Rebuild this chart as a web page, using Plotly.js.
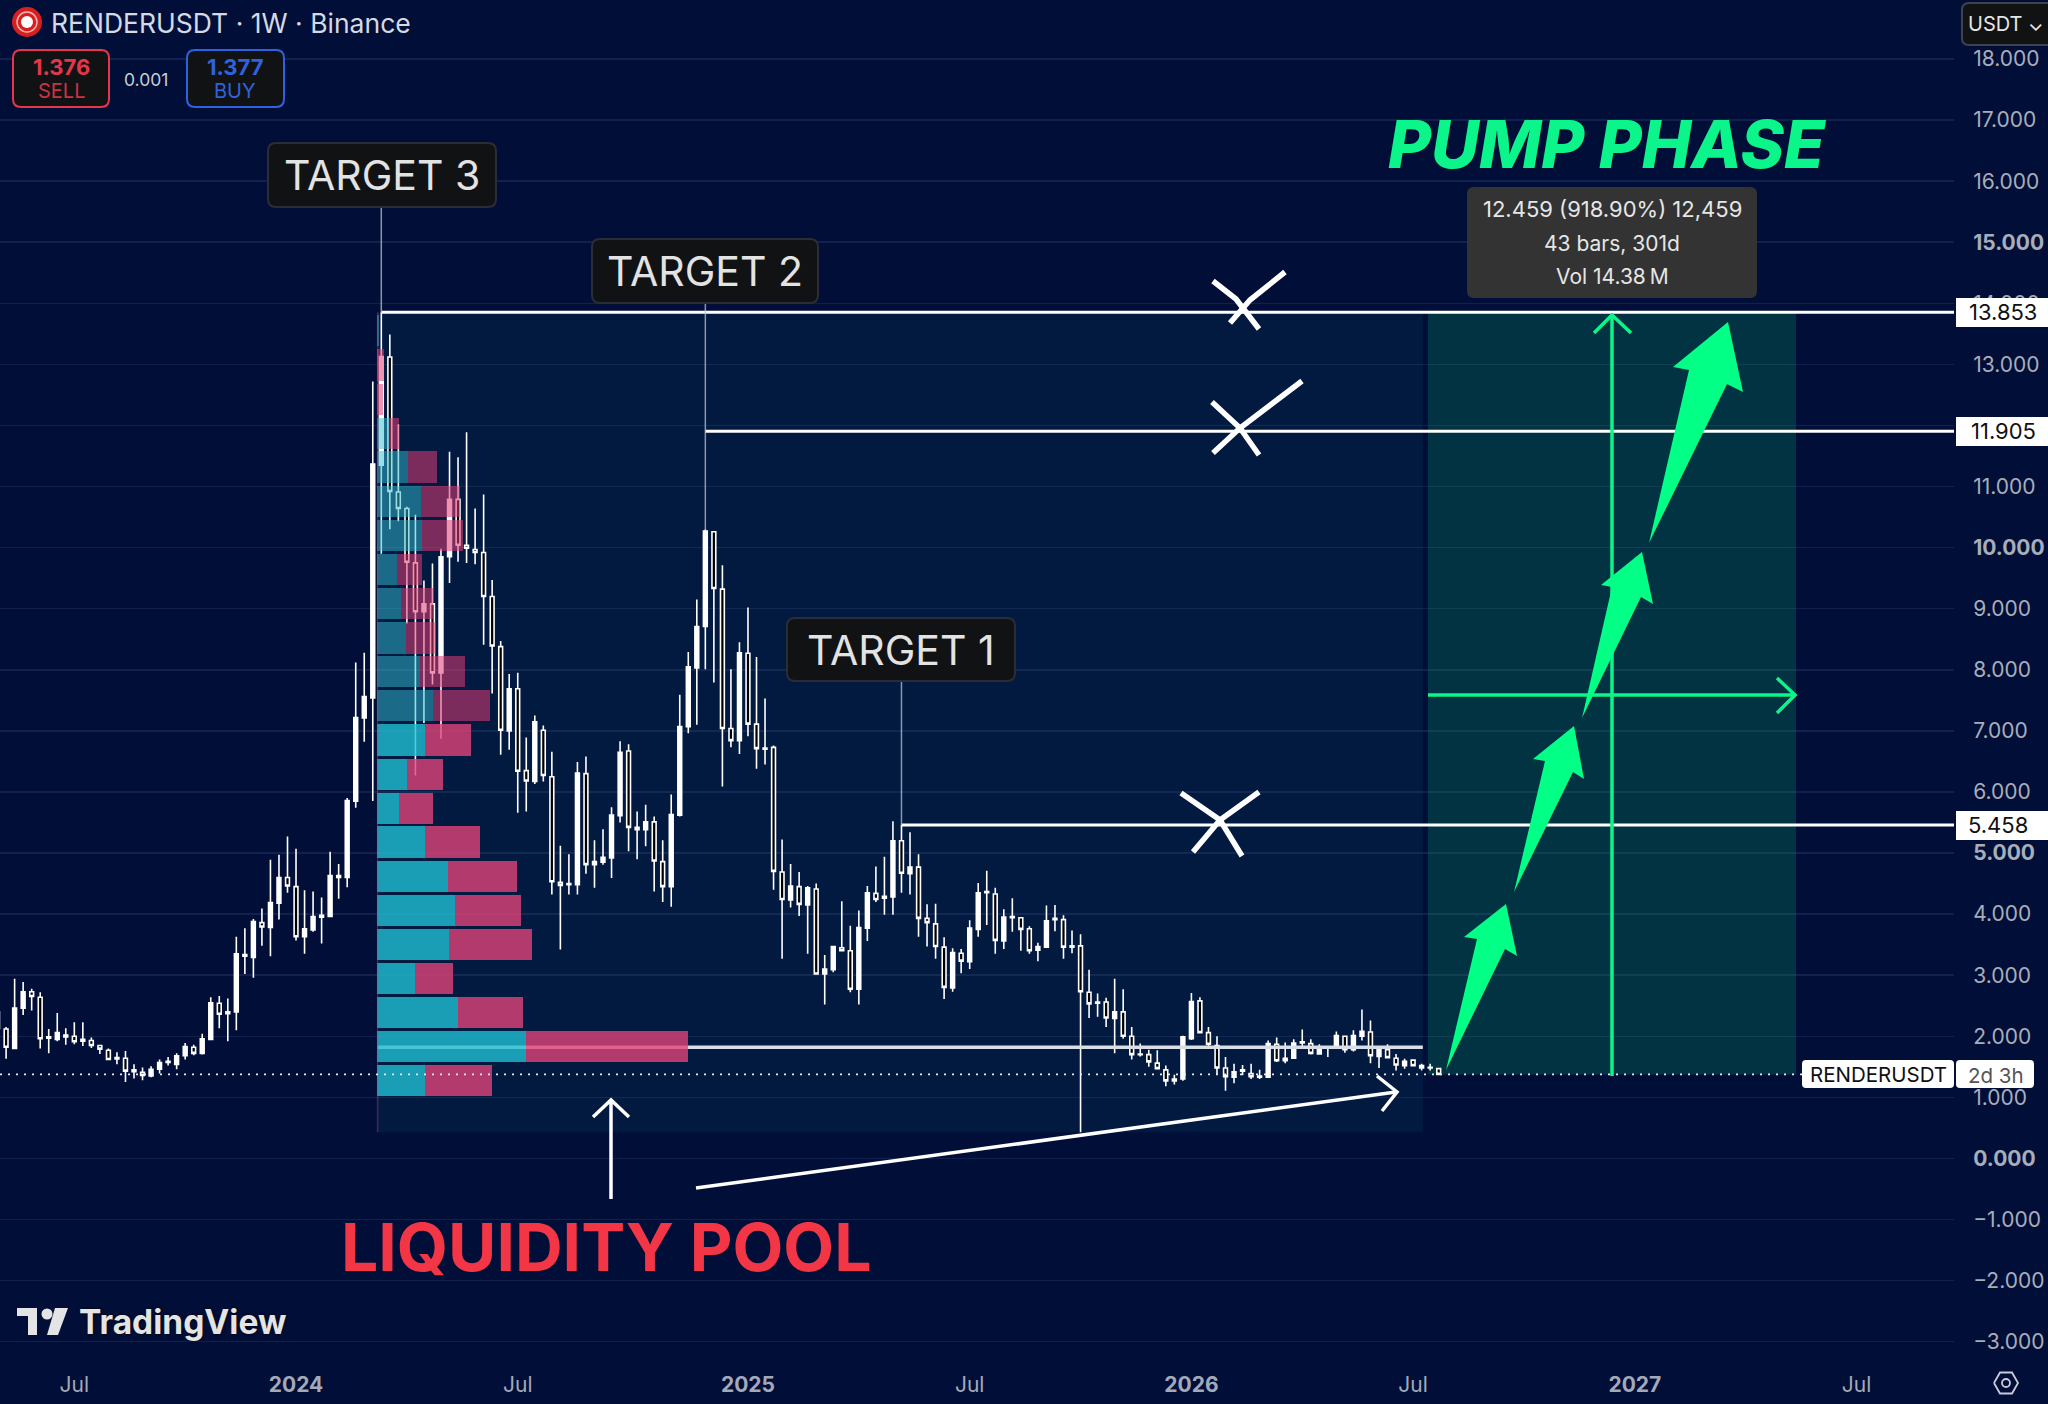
<!DOCTYPE html>
<html><head><meta charset="utf-8">
<script src="https://cdn.plot.ly/plotly-3.0.1.min.js"></script>
<style>html,body{margin:0;padding:0;background:#010f38}#c{width:2048px;height:1404px}</style>
</head><body><div id="c"></div>
<script>
// ---- weekly candles, first candle in week of 2023-05-01 ----
const firstWeek = '2023-05-01';
const opens = [
2.13,2.12,1.80,2.46,2.73,2.64,1.97,1.95,1.99,2.00,
1.92,1.93,1.85,1.77,1.65,1.64,1.42,1.41,1.35,1.46,
1.57,1.54,1.68,1.82,1.72,1.95,2.54,2.37,2.40,3.31,
3.29,3.86,3.78,4.18,4.60,4.45,3.63,3.74,3.95,3.96,
4.60,4.60,5.85,7.21,7.54,11.35,13.12,10.91,10.64,9.75,
8.95,9.08,7.95,9.85,10.79,10.04,9.97,9.92,9.20,8.38,
7.00,7.69,6.35,6.17,7.01,6.25,4.52,4.48,4.48,6.30,
4.81,4.85,4.92,5.61,6.67,5.38,5.38,5.51,4.86,4.45,
5.62,7.07,8.03,8.71,10.26,9.32,7.04,6.84,8.27,7.11,
6.72,6.73,4.69,4.23,4.45,4.15,4.41,3.02,3.09,3.45,
3.40,2.77,3.77,4.34,4.26,4.28,5.20,4.66,4.77,3.93,
3.84,3.46,2.79,3.36,3.22,3.75,4.35,4.33,3.56,3.94,
3.94,3.76,3.41,3.46,3.91,3.91,3.48,3.48,2.72,2.56,
2.56,2.29,2.40,2.00,1.71,1.70,1.56,1.45,1.27,1.30,
1.96,2.58,2.06,1.85,1.48,1.33,1.43,1.39,1.35,1.33,
1.87,1.60,1.64,1.89,1.88,1.71,1.81,1.82,2.00,1.78,
2.00,2.07,1.67,1.78,1.64,1.52,1.61,1.48,1.48,1.47
];
const closes = [
2.40,1.82,2.46,2.73,2.65,1.96,1.99,2.06,2.02,1.91,
1.95,1.85,1.79,1.62,1.63,1.43,1.45,1.36,1.46,1.57,
1.59,1.68,1.83,1.72,1.96,2.55,2.36,2.40,3.35,3.34,
3.88,3.79,4.19,4.60,4.46,3.63,3.76,3.96,3.98,4.63,
4.63,5.86,7.22,7.56,11.37,13.13,10.92,10.64,9.76,8.95,
9.08,7.95,9.85,10.79,10.04,9.99,9.92,9.20,8.39,7.01,
7.69,6.34,6.18,7.15,6.27,4.53,4.47,4.50,6.31,4.81,
4.86,4.93,5.62,6.65,5.42,5.42,5.51,4.87,4.45,5.63,
7.07,8.05,8.71,10.27,9.33,7.04,6.84,8.28,7.11,6.71,
6.70,4.70,4.24,4.46,4.16,4.43,3.02,3.10,3.47,3.40,
2.77,3.78,4.35,4.24,4.29,5.20,4.67,4.77,3.93,3.86,
3.47,2.80,3.37,3.23,3.77,4.35,4.37,3.57,3.95,3.96,
3.75,3.40,3.47,3.89,3.93,3.46,3.46,2.73,2.53,2.54,
2.30,2.40,2.00,1.70,1.70,1.58,1.47,1.27,1.30,1.99,
2.57,2.06,1.87,1.48,1.34,1.42,1.45,1.34,1.33,1.88,
1.60,1.64,1.89,1.91,1.72,1.82,1.82,2.01,1.78,2.01,
2.08,1.68,1.79,1.65,1.53,1.59,1.52,1.52,1.49,1.376
];
const highs = [
2.49,2.15,2.94,2.89,2.78,2.72,2.12,2.38,2.13,2.23,
2.23,1.98,1.86,1.80,1.74,1.76,1.54,1.49,1.51,1.62,
1.66,1.72,1.89,1.86,2.04,2.64,2.66,2.62,3.63,3.77,
3.92,4.09,4.89,4.97,5.27,5.07,4.39,4.37,4.27,5.02,
4.82,5.90,8.12,8.28,12.72,13.853,13.49,12.02,10.67,10.54,
9.46,9.74,9.98,11.57,11.48,11.89,10.64,10.87,9.47,8.47,
7.93,7.95,6.89,7.25,7.09,6.66,5.12,4.98,6.49,6.58,
5.21,5.39,5.75,6.83,6.78,5.68,5.79,5.60,5.21,5.96,
7.59,8.29,9.15,10.30,10.27,9.71,8.01,8.45,9.02,8.21,
7.53,6.76,5.22,4.82,4.69,4.46,4.50,3.33,3.47,4.21,
3.81,4.06,4.46,4.78,4.94,5.52,5.458,5.34,4.98,4.16,
4.17,3.62,3.44,3.43,3.90,4.51,4.71,4.43,4.08,4.26,
3.95,3.80,3.53,4.14,4.15,3.98,3.73,3.67,3.09,2.70,
2.63,2.94,2.77,2.15,1.88,1.78,1.77,1.52,1.37,2.01,
2.71,2.64,2.15,2.00,1.66,1.55,1.53,1.55,1.45,1.93,
1.98,1.90,1.95,2.11,1.95,1.87,1.84,2.08,2.01,2.10,
2.44,2.26,1.82,1.87,1.71,1.63,1.61,1.55,1.55,1.47
];
const lows = [
2.06,1.63,1.79,2.35,2.42,1.80,1.72,1.92,1.86,1.87,
1.84,1.81,1.71,1.61,1.54,1.25,1.31,1.28,1.33,1.39,
1.52,1.46,1.62,1.69,1.70,1.95,2.13,1.92,2.10,3.02,
2.96,3.48,3.31,3.91,4.35,3.57,3.35,3.71,3.52,3.95,
4.25,4.44,5.74,6.82,5.85,9.90,10.30,10.43,8.76,6.27,
7.13,7.76,6.87,9.42,9.77,9.75,9.73,8.41,7.61,6.61,
6.69,5.66,5.68,6.13,6.17,4.32,3.42,4.32,4.32,4.66,
4.43,4.81,4.59,5.50,5.03,4.90,5.11,4.37,4.20,4.12,
5.60,6.96,7.10,8.01,7.79,6.09,6.73,6.62,6.91,6.38,
6.45,4.40,3.27,4.11,3.97,3.35,3.01,2.52,3.05,3.40,
2.72,2.52,3.56,4.20,3.99,3.99,4.35,4.32,3.63,3.47,
3.27,2.61,2.73,3.03,3.10,3.63,3.82,3.35,3.43,3.71,
3.40,3.35,3.23,3.46,3.72,3.27,3.36,0.43,2.30,2.32,
2.15,1.72,1.96,1.62,1.67,1.50,1.46,1.18,1.21,1.27,
1.94,2.05,1.83,1.38,1.11,1.23,1.36,1.30,1.30,1.33,
1.58,1.56,1.64,1.84,1.70,1.70,1.66,1.82,1.73,1.75,
1.93,1.56,1.48,1.64,1.44,1.47,1.52,1.44,1.44,1.37
];

// ---- fixed-range volume profile ----
const profilePrices = [1.27,1.83,2.39,2.94,3.50,4.06,4.62,5.18,5.73,6.29,6.85,7.41,7.97,8.52,9.08,9.64,10.20,10.76,11.32,11.87,12.43,12.99,13.55];
const buyVolume  = [48,149,81,38,72,78,71,48,22,30,48,56,43,29,24,20,45,44,31,12,1,1,2];
const sellVolume = [67,162,65,38,83,66,69,55,34,36,46,57,45,30,32,25,41,39,29,10,5,6,0];
const pocPrice = 1.82;
const profileRange = ['2024-03-08','2026-07-14'];

// ---- levels and targets ----
const levelPrices = [13.853,11.905,5.458];
const levelStarts = ['2024-03-11','2024-12-02','2025-05-12'];
const targetTops = [15.58,14.0,7.82];
const targetBottoms = [13.853,10.3,5.458];
const lastPrice = 1.376;

// ---- axis labels ----
const yTicks = [18,17,16,15,14,13,12,11,10,9,8,7,6,5,4,3,2,1,0,-1,-2,-3];
const yLabels = ['18.000','17.000','16.000','<b>15.000</b>','14.000','13.000','12.000','11.000','<b>10.000</b>','9.000','8.000','7.000','6.000','<b>5.000</b>','4.000','3.000','2.000','1.000','<b>0.000</b>','−1.000','−2.000','−3.000'];
const xTicks = ['2023-07-03','2024-01-01','2024-07-01','2025-01-06','2025-07-07','2026-01-05','2026-07-06','2027-01-04','2027-07-05'];
const xLabels = ['Jul','<b>2024</b>','Jul','<b>2025</b>','Jul','<b>2026</b>','Jul','<b>2027</b>','Jul'];

// ---- geometry helpers ----
const PW = 1954, PH = 1365, FONT = 'Inter, "Liberation Sans", sans-serif';
const fx = p => p / PW, fy = p => 1 - p / PH;
const weeks = opens.map((_, i) => new Date(Date.parse(firstWeek + 'T00:00:00Z') + i * 7 * 864e5).toISOString().slice(0, 10));

const poly = (pts, close) => 'M' + pts.map(p => fx(p[0]) + ',' + fy(p[1])).join(' L') + (close ? ' Z' : '');
const rrectPath = (x0, y0, x1, y1, r) =>
  `M${fx(x0 + r)},${fy(y0)} L${fx(x1 - r)},${fy(y0)} Q${fx(x1)},${fy(y0)} ${fx(x1)},${fy(y0 + r)} ` +
  `L${fx(x1)},${fy(y1 - r)} Q${fx(x1)},${fy(y1)} ${fx(x1 - r)},${fy(y1)} L${fx(x0 + r)},${fy(y1)} ` +
  `Q${fx(x0)},${fy(y1)} ${fx(x0)},${fy(y1 - r)} L${fx(x0)},${fy(y0 + r)} Q${fx(x0)},${fy(y0)} ${fx(x0 + r)},${fy(y0)} Z`;
const pshape = (path, o) => Object.assign({type:'path', xref:'paper', yref:'paper', path, layer:'above', line:{width:0}}, o);
const stroke = (pts, color, width) => pshape(poly(pts), {line:{color, width}});
const fill = (pts, color) => pshape(poly(pts, true), {fillcolor:color});
const rbox = (x0, y0, x1, y1, r, fc, lc, lw) => pshape(rrectPath(x0, y0, x1, y1, r), {fillcolor:fc, line:{color:lc || fc, width:lw || 0}});
const circ = (x, y, r, fc, lc, lw) => ({type:'circle', xref:'paper', yref:'paper', x0:fx(x-r), x1:fx(x+r), y0:fy(y+r), y1:fy(y-r), layer:'above', fillcolor:fc, line:{color:lc||fc, width:lw||0}});
const text = (t, x, y, size, color, o) => Object.assign({text:t, xref:'paper', yref:'paper', x:fx(x), y:fy(y), xanchor:'center', yanchor:'middle', showarrow:false,
  font:Object.assign({family:FONT, size, color}, (o && o.font) || {})}, o && {xanchor:o.xanchor || 'center'});

const GREEN = '#0cf58a', ARROW = '#02ff86', WHITE = '#ffffff';

const shapes = [
  // volume-profile background and long-position box, under the marks
  {type:'rect', xref:'x', yref:'y', x0:profileRange[0], x1:profileRange[1], y0:0.43, y1:13.853, layer:'below', line:{width:0}, fillcolor:'rgba(8,55,90,0.27)'},
  {type:'rect', xref:'paper', yref:'y', x0:fx(1428), x1:fx(1796), y0:lastPrice, y1:13.853, layer:'below', line:{width:0}, fillcolor:'rgba(10,230,120,0.17)'},
  {type:'line', xref:'x', yref:'y', x0:profileRange[0], x1:profileRange[0], y0:0.43, y1:13.853, layer:'above', line:{color:'rgba(190,70,120,0.4)', width:1.5}},
  // last price dotted line
  {type:'line', xref:'paper', yref:'y', x0:0, x1:fx(1802), y0:lastPrice, y1:lastPrice, layer:'above', line:{color:'#e8ecf5', width:1.6, dash:'2px 6px'}},
  // measure cross
  stroke([[1612,316],[1612,1076]], GREEN, 3.5),
  stroke([[1594,333],[1612,315],[1631,333]], GREEN, 3.5),
  stroke([[1428,695],[1795,695]], GREEN, 3.5),
  stroke([[1777,678],[1795,695],[1777,713]], GREEN, 3.5),
  // pump arrows
  fill([[1728,322],[1673,367],[1689,370],[1649,543],[1727,384],[1743,392]], ARROW),
  fill([[1642,552],[1601,585],[1612,587],[1582,718],[1641,597],[1653,604]], ARROW),
  fill([[1574,726],[1533,759],[1545,761],[1514,892],[1573,772],[1584,779]], ARROW),
  fill([[1506,904],[1464,937],[1477,939],[1446,1070],[1505,949],[1517,956]], ARROW),
  // crosses on the levels
  stroke([[1213,281],[1236,299],[1259,329]], WHITE, 5.5),
  stroke([[1285,272],[1250,300],[1230,323]], WHITE, 5.5),
  stroke([[1212,402],[1240,428],[1259,455]], WHITE, 5.5),
  stroke([[1302,381],[1240,428],[1213,453]], WHITE, 5.5),
  stroke([[1181,793],[1220,820],[1242,856]], WHITE, 5.5),
  stroke([[1259,792],[1220,820],[1193,852]], WHITE, 5.5),
  // liquidity arrows
  stroke([[611,1199],[611,1102]], WHITE, 3.5),
  stroke([[593,1117],[611,1100],[629,1117]], WHITE, 3.5),
  stroke([[696,1188],[1396,1092]], WHITE, 3.5),
  stroke([[1377,1076],[1397,1092],[1382,1111]], WHITE, 3.5),
  // target tags
  rbox(268,143,496,207,8,'#111214','#2a2d36',2),
  rbox(592,239,818,303,8,'#111214','#2a2d36',2),
  rbox(787,618,1015,681,8,'#111214','#2a2d36',2),
  // tooltip
  rbox(1467,187,1757,298,7,'#333333'),
  // header chips
  rbox(13,50,109,107,8,'#111214','#e5364a',2),
  rbox(187,50,284,107,8,'#111214','#2f62e0',2),
  rbox(1962,3,2060,45,7,'#111214','#3f424c',2),
  circ(27,22,15,'#d81f20'),
  circ(27,22,10,'#d81f20','#f4b4b2',1.5),
  circ(27,22,6,'#ffffff'),
  // price tags
  pshape(rrectPath(1956,298,2050,327,0),{fillcolor:WHITE}),
  pshape(rrectPath(1956,417,2050,446,0),{fillcolor:WHITE}),
  pshape(rrectPath(1956,811,2050,840,0),{fillcolor:WHITE}),
  rbox(1802,1060,1954,1088,4,WHITE),
  rbox(1956,1060,2034,1088,4,WHITE),
  // settings hexagon
  stroke([[1994,1383],[2000,1372.5],[2012,1372.5],[2018,1383],[2012,1393.5],[2000,1393.5],[1994,1383]], '#c8ccd6', 1.8),
  circ(2006,1383,4,'rgba(0,0,0,0)','#c8ccd6',1.8),
  // TradingView mark
  fill([[17,1308],[37,1308],[37,1335],[28,1335],[28,1316],[17,1316]], '#e4e4e4'),
  circ(47,1314,5.5,'#e4e4e4'),
  fill([[55,1308],[68,1308],[58,1335],[47,1335]], '#e4e4e4')
];

const annotations = [
  text('TARGET 3',382,175,41,'#e3e3e3'),
  text('TARGET 2',705,271,41,'#e3e3e3'),
  text('TARGET 1',901,650,41,'#e3e3e3'),
  text('PUMP PHASE',1607,144,66,GREEN,{font:{weight:800,style:'italic'}}),
  text('LIQUIDITY POOL',606,1247,66,'#f23645',{font:{weight:700}}),
  text('12.459 (918.90%) 12,459',1612,209,22,'#e6e6e6'),
  text('43 bars, 301d',1612,243,21,'#e6e6e6'),
  text('Vol 14.38\u2009M',1612,277,21,'#e6e6e6'),
  text('RENDERUSDT · 1W · Binance',49,23,26.5,'#d5d9e3',{xanchor:'left'}),
  text('1.376',61,67,22,'#e5364a',{font:{weight:700}}),
  text('SELL',61,91,20,'#c93344'),
  text('0.001',146,79,17.5,'#c9cdd8'),
  text('1.377',235,67,22,'#2f62e0',{font:{weight:700}}),
  text('BUY',235,91,20,'#2f62e0'),
  text('USDT ⌄',2006,24,20,'#e6e6e6'),
  text('13.853',2003,312,22,'#111111'),
  text('11.905',2003,431,22,'#111111'),
  text('5.458',1998,825,22,'#111111'),
  text('RENDERUSDT',1878,1074,20.5,'#111111'),
  text('2d 3h',1996,1075,20.5,'#555555'),
  text('TradingView',182,1322,33.5,'#e4e4e4',{font:{weight:700,shadow:'0 0 3px #000'}})
];

const lineTrace = (x, y, color, width) => ({type:'scatter', mode:'lines', x, y, line:{color, width}, hoverinfo:'skip', showlegend:false, xaxis:'x', yaxis:'y'});
const rangeEnd = '2027-09-23';
const profileColors = (bright, dim) => profilePrices.map((_, i) => i <= 10 ? bright : dim);

const traces = [
  lineTrace(profileRange, [pocPrice, pocPrice], '#d9dde6', 3.5),
  {type:'candlestick', x:weeks, open:opens, high:highs, low:lows, close:closes, xaxis:'x', yaxis:'y', hoverinfo:'skip', showlegend:false, whiskerwidth:0,
   increasing:{line:{color:WHITE, width:1.6}, fillcolor:WHITE},
   decreasing:{line:{color:WHITE, width:1.6}, fillcolor:'#000000'}},
  ...levelPrices.map((v, i) => lineTrace([levelStarts[i], rangeEnd], [v, v], WHITE, 3)),
  ...levelStarts.map((d, i) => lineTrace([d, d], [targetBottoms[i], targetTops[i]], 'rgba(190,195,205,0.75)', 1.5)),
  {type:'bar', orientation:'h', y:profilePrices, x:buyVolume, xaxis:'x2', yaxis:'y', hoverinfo:'skip', showlegend:false,
   marker:{color:profileColors('rgba(33,191,211,0.8)','rgba(51,190,207,0.5)'), line:{width:0}}},
  {type:'bar', orientation:'h', y:profilePrices, x:sellVolume, xaxis:'x2', yaxis:'y', hoverinfo:'skip', showlegend:false,
   marker:{color:profileColors('rgba(223,66,120,0.8)','rgba(224,60,114,0.55)'), line:{width:0}}}
];

const layout = {
  width:2048, height:1404,
  margin:{l:0, r:94, t:0, b:39, pad:0},
  paper_bgcolor:'#010f38', plot_bgcolor:'#010f38',
  showlegend:false, barmode:'stack', bargap:0.07, boxgap:0.36,
  font:{family:FONT},
  xaxis:{type:'date', range:['2023-05-03', rangeEnd], rangeslider:{visible:false}, showgrid:false, zeroline:false, showline:false,
    tickmode:'array', tickvals:xTicks, ticktext:xLabels, ticks:'outside', ticklen:1, tickcolor:'rgba(0,0,0,0)', tickfont:{size:21, color:'#a4a9ba'}, fixedrange:true},
  xaxis2:{overlaying:'x', anchor:'y', range:[-377, 1577], visible:false, showgrid:false, zeroline:false, fixedrange:true},
  yaxis:{side:'right', range:[-3.382, 18.966], showgrid:true, gridcolor:'rgba(120,140,200,0.14)', gridwidth:1.5, zeroline:false, showline:false,
    tickmode:'array', tickvals:yTicks, ticktext:yLabels, ticks:'outside', ticklen:14, tickcolor:'rgba(0,0,0,0)', tickfont:{size:21, color:'#a8adba'}, fixedrange:true},
  shapes, annotations
};
Plotly.newPlot('c', traces, layout, {displayModeBar:false, staticPlot:true});
</script></body></html>
